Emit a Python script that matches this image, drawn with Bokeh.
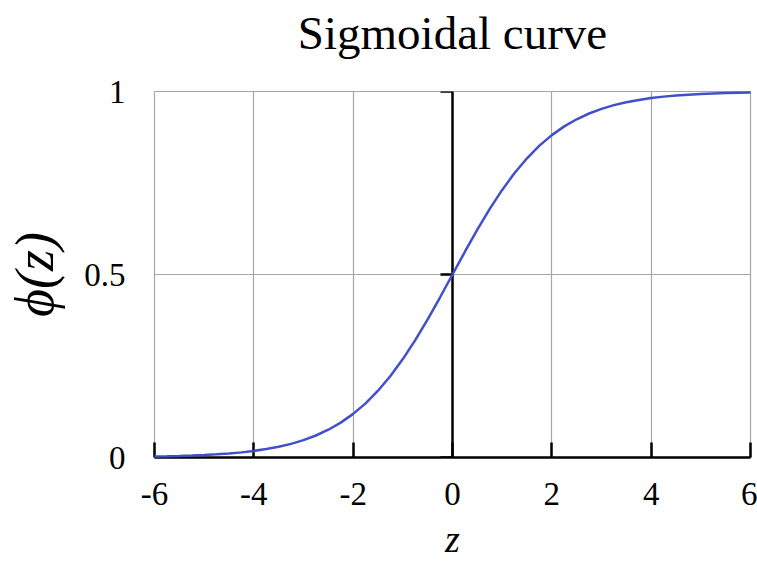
from bokeh.plotting import figure
from bokeh.models import LinearAxis, FixedTicker, Range1d
from bokeh.embed import file_html
from bokeh.resources import INLINE

# Logistic (sigmoid) curve samples: z and phi(z)
z_values = [-6.0, -5.75, -5.5, -5.25, -5.0, -4.75, -4.5, -4.25, -4.0, -3.75,
            -3.5, -3.25, -3.0, -2.75, -2.5, -2.25, -2.0, -1.75, -1.5, -1.25,
            -1.0, -0.75, -0.5, -0.25, 0.0, 0.25, 0.5, 0.75, 1.0, 1.25,
            1.5, 1.75, 2.0, 2.25, 2.5, 2.75, 3.0, 3.25, 3.5, 3.75,
            4.0, 4.25, 4.5, 4.75, 5.0, 5.25, 5.5, 5.75, 6.0]
phi_values = [0.0025, 0.0032, 0.0041, 0.0052, 0.0067, 0.0086, 0.0110, 0.0140, 0.0180, 0.0230,
              0.0293, 0.0373, 0.0474, 0.0601, 0.0759, 0.0953, 0.1192, 0.1480, 0.1824, 0.2227,
              0.2689, 0.3208, 0.3775, 0.4378, 0.5000, 0.5622, 0.6225, 0.6792, 0.7311, 0.7773,
              0.8176, 0.8520, 0.8808, 0.9047, 0.9241, 0.9399, 0.9526, 0.9627, 0.9707, 0.9770,
              0.9820, 0.9860, 0.9890, 0.9914, 0.9933, 0.9948, 0.9959, 0.9968, 0.9975]

x_ticks = [-6, -4, -2, 0, 2, 4, 6]
x_tick_labels = ["-6", "-4", "-2", "0", "2", "4", "6"]
y_ticks = [0, 0.5, 1]
y_tick_labels = ["0", "0.5", "1"]
chart_title = "Sigmoidal curve"

FONT = "Liberation Serif"
GRID = "#a6a6a6"
CURVE = "#4150c9"

p = figure(width=757, height=564,
           x_range=Range1d(-6, 6), y_range=Range1d(0, 1),
           output_backend="svg", toolbar_location=None,
           min_border_left=154, min_border_right=7,
           min_border_top=91, min_border_bottom=107)
p.background_fill_color = "white"
p.border_fill_color = "white"
p.outline_line_color = GRID
p.outline_line_width = 1.2

# bottom axis: black line along phi=0 with inward ticks
xa = p.below[0]
xa.ticker = FixedTicker(ticks=x_ticks)
xa.major_label_overrides = {t: s for t, s in zip(x_ticks, x_tick_labels)}
xa.axis_line_color = "black"
xa.axis_line_width = 2.5
xa.major_tick_line_color = "black"
xa.major_tick_line_width = 2.5
xa.major_tick_in = 15
xa.major_tick_out = 0
xa.minor_tick_line_color = None
xa.major_label_text_font = FONT
xa.major_label_text_font_size = "33px"
xa.major_label_text_color = "black"
xa.major_label_standoff = 25
xa.axis_label = "z"
xa.axis_label_text_font = FONT
xa.axis_label_text_font_style = "italic"
xa.axis_label_text_font_size = "38px"
xa.axis_label_text_color = "black"
xa.axis_label_standoff = 10

# left axis: tick labels and the axis title
ya = p.left[0]
ya.ticker = FixedTicker(ticks=y_ticks)
ya.major_label_overrides = {t: s for t, s in zip(y_ticks, y_tick_labels)}
ya.axis_line_color = None
ya.major_tick_line_color = None
ya.minor_tick_line_color = None
ya.major_label_text_font = FONT
ya.major_label_text_font_size = "33px"
ya.major_label_text_color = "black"
ya.major_label_standoff = 23
ya.axis_label = "ϕ(z)"
ya.axis_label_text_font = FONT
ya.axis_label_text_font_style = "italic"
ya.axis_label_text_font_size = "54px"
ya.axis_label_text_color = "black"
ya.axis_label_standoff = 16

# heading carried by a bare axis above the frame
head_axis = LinearAxis(ticker=FixedTicker(ticks=[]))
head_axis.axis_line_color = None
head_axis.major_tick_line_color = None
head_axis.minor_tick_line_color = None
head_axis.major_tick_out = 0
head_axis.major_tick_in = 0
head_axis.major_label_standoff = 0
head_axis.axis_label = chart_title
head_axis.axis_label_text_font = FONT
head_axis.axis_label_text_font_size = "47px"
head_axis.axis_label_text_font_style = "normal"
head_axis.axis_label_text_color = "black"
head_axis.axis_label_standoff = 33
p.add_layout(head_axis, "above")

# vertical black axis through z=0 with outward ticks
zero_axis = LinearAxis(fixed_location=0, ticker=FixedTicker(ticks=y_ticks))
zero_axis.axis_line_color = "black"
zero_axis.axis_line_width = 2.5
zero_axis.major_tick_line_color = "black"
zero_axis.major_tick_line_width = 2.5
zero_axis.major_tick_out = 12
zero_axis.major_tick_in = 0
zero_axis.minor_tick_line_color = None
zero_axis.major_label_text_color = None
zero_axis.major_label_text_font_size = "0px"
p.add_layout(zero_axis, "left")

p.xgrid.ticker = FixedTicker(ticks=x_ticks)
p.ygrid.ticker = FixedTicker(ticks=y_ticks)
p.grid.grid_line_color = GRID
p.grid.grid_line_width = 1.2

r = p.line(z_values, phi_values, line_color=CURVE, line_width=2.5)
r.level = "overlay"

open("out.html", "w").write(file_html(p, INLINE))
